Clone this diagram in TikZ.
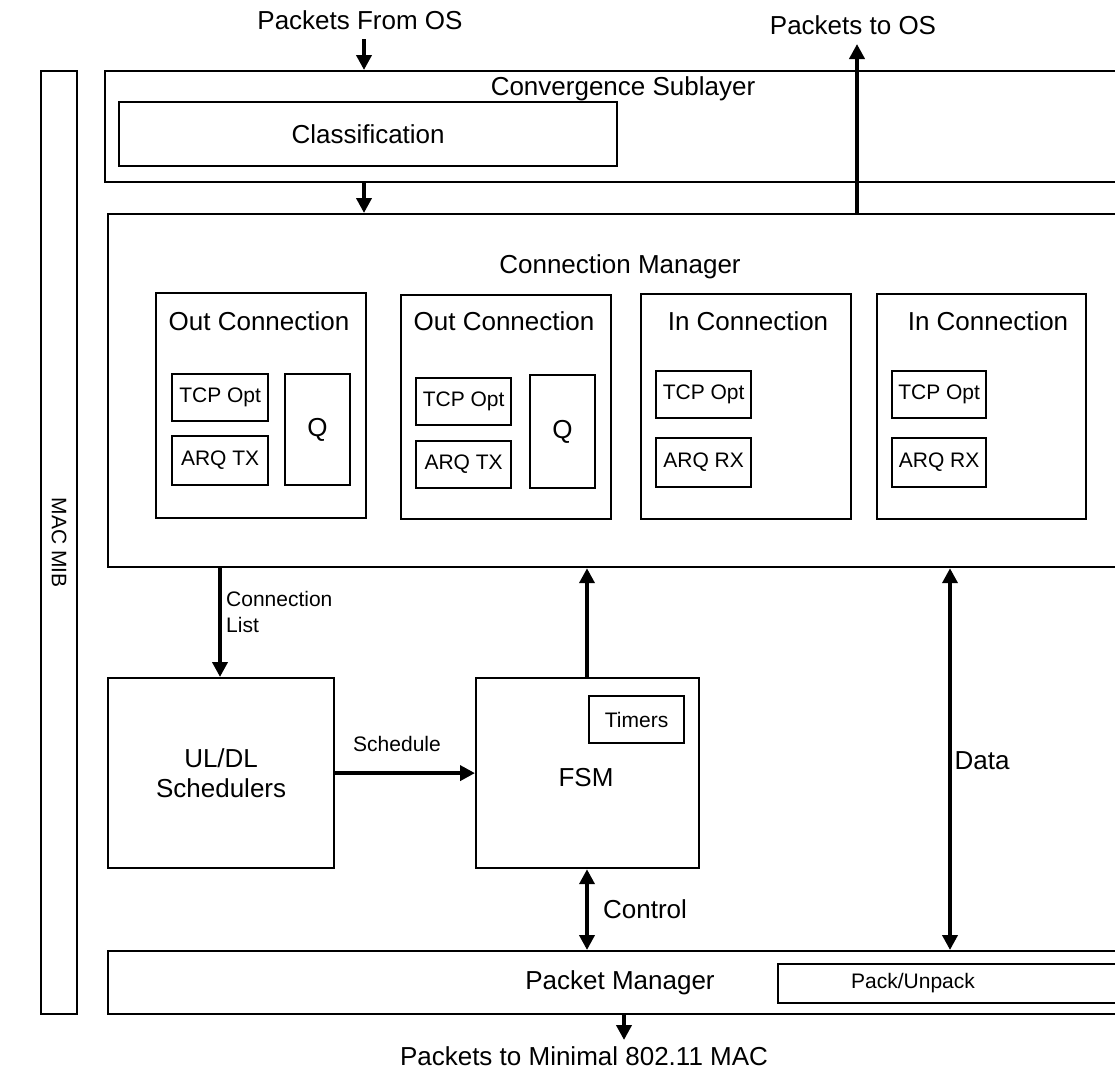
\documentclass[tikz,border=0pt]{standalone}
\usepackage{fontspec}
\setmainfont{Liberation Sans}
\usetikzlibrary{arrows.meta}
\begin{document}
\begin{tikzpicture}[x=1pt,y=-1pt,
  box/.style={draw, line width=2.2pt, inner sep=0pt, anchor=north west, align=center},
  big/.style={font=\fontsize{26}{30}\selectfont},
  small/.style={font=\fontsize{21}{25}\selectfont},
  lbl/.style={inner sep=0pt, anchor=center},
  arr/.style={line width=4pt, -{Triangle[length=15pt,width=15pt]}},
  darr/.style={line width=4pt, {Triangle[length=15pt,width=15pt]}-{Triangle[length=15pt,width=15pt]}}]
\useasboundingbox (0,0) rectangle (1115,1071);
\clip (0,0) rectangle (1115,1071);

% MAC MIB
\node[box, minimum width=36pt, minimum height=943pt] (mib) at (40,70) {};
\node[lbl, small, rotate=-90] (mibl) at (mib.center) {MAC MIB};

% Convergence sublayer
\node[box, minimum width=1026pt, minimum height=111pt] (cs) at (104,70) {};
\node[lbl, big] (csl) at (623,89) {Convergence Sublayer};
\node[box, big, minimum width=498pt, minimum height=64pt] (cls) at (118,101) {Classification};

% Connection manager
\node[box, minimum width=1023pt, minimum height=353pt] (cm) at (107,213) {};
\node[lbl, big] (cml) at (620,267) {Connection Manager};

% Out connection 1
\node[box, minimum width=210pt, minimum height=225pt] (oc1) at (155,292) {};
\node[lbl, big] (oc1l) at (259,321) {Out Connection};
\node[box, small, minimum width=96pt, minimum height=47pt] (oc1t) at (171,373) {TCP Opt};
\node[box, small, minimum width=96pt, minimum height=49pt] (oc1a) at (171,435) {ARQ TX};
\node[box, big, minimum width=65pt, minimum height=111pt] (oc1q) at (284,373) {Q};

% Out connection 2
\node[box, minimum width=210pt, minimum height=224pt] (oc2) at (400,294) {};
\node[lbl, big] (oc2l) at (504,321) {Out Connection};
\node[box, small, minimum width=95pt, minimum height=47pt] (oc2t) at (415,377) {TCP Opt};
\node[box, small, minimum width=95pt, minimum height=47pt] (oc2a) at (415,440) {ARQ TX};
\node[box, big, minimum width=65pt, minimum height=113pt] (oc2q) at (529,374) {Q};

% In connection 1
\node[box, minimum width=210pt, minimum height=225pt] (ic1) at (640,293) {};
\node[lbl, big] (ic1l) at (748,321) {In Connection};
\node[box, small, minimum width=95pt, minimum height=47pt] (ic1t) at (655,370) {TCP Opt};
\node[box, small, minimum width=95pt, minimum height=49pt] (ic1a) at (655,437) {ARQ RX};

% In connection 2
\node[box, minimum width=209pt, minimum height=225pt] (ic2) at (876,293) {};
\node[lbl, big] (ic2l) at (988,321) {In Connection};
\node[box, small, minimum width=94pt, minimum height=47pt] (ic2t) at (891,370) {TCP Opt};
\node[box, small, minimum width=94pt, minimum height=49pt] (ic2a) at (891,437) {ARQ RX};

% Schedulers and FSM
\node[box, big, minimum width=226pt, minimum height=190pt] (sch) at (107,677) {UL/DL\\Schedulers};
\node[box, minimum width=223pt, minimum height=190pt] (fsm) at (475,677) {};
\node[lbl, big] (fsml) at (586,778) {FSM};
\node[box, small, minimum width=95pt, minimum height=47pt] (tim) at (588,695) {Timers};

% Packet manager
\node[box, minimum width=1023pt, minimum height=63pt] (pm) at (107,950) {};
\node[lbl, big] (pml) at (620,983) {Packet Manager};
\node[box, small, minimum width=353pt, minimum height=39pt] (pu) at (777,963) {};
\node[lbl, small] (pul) at (913,983) {Pack/Unpack};

% outside labels
\node[lbl, big] (fromos) at (360,20) {Packets From OS};
\node[lbl, big] (toos) at (853,25) {Packets to OS};
\node[lbl, big] (tomac) at (584,1056) {Packets to Minimal 802.11 MAC};

% x positions
\coordinate (xa) at (364,0);
\coordinate (xb) at (857,0);
\coordinate (xc) at (220,0);
\coordinate (xd) at (587,0);
\coordinate (xe) at (950,0);
\coordinate (xf) at (624,0);
\coordinate (ya) at (0,39);
\coordinate (yb) at (0,44);
\coordinate (yc) at (0,1040);

% arrows
\draw[arr] (ya -| xa) -- (cs.north -| xa);
\draw[arr] (cs.south -| xa) -- (cm.north -| xa);
\draw[arr] (cm.north -| xb) -- (yb -| xb);
\draw[arr] (cm.south -| xc) -- (sch.north -| xc);
\node[small, anchor=north west, align=left, inner sep=0pt, font=\fontsize{21}{26}\selectfont] (cll) at (226,591) {Connection\\List};
\draw[arr] (sch.east) -- (fsm.west);
\node[lbl, small] (schl) at (397,744) {Schedule};
\draw[arr] (fsm.north -| xd) -- (cm.south -| xd);
\draw[darr] (fsm.south -| xd) -- (pm.north -| xd);
\node[lbl, big] (ctl) at (645,909) {Control};
\draw[darr] (cm.south -| xe) -- (pm.north -| xe);
\node[lbl, big] (datal) at (982,761) {Data};
\draw[arr] (pm.south -| xf) -- (yc -| xf);
\end{tikzpicture}
\end{document}
